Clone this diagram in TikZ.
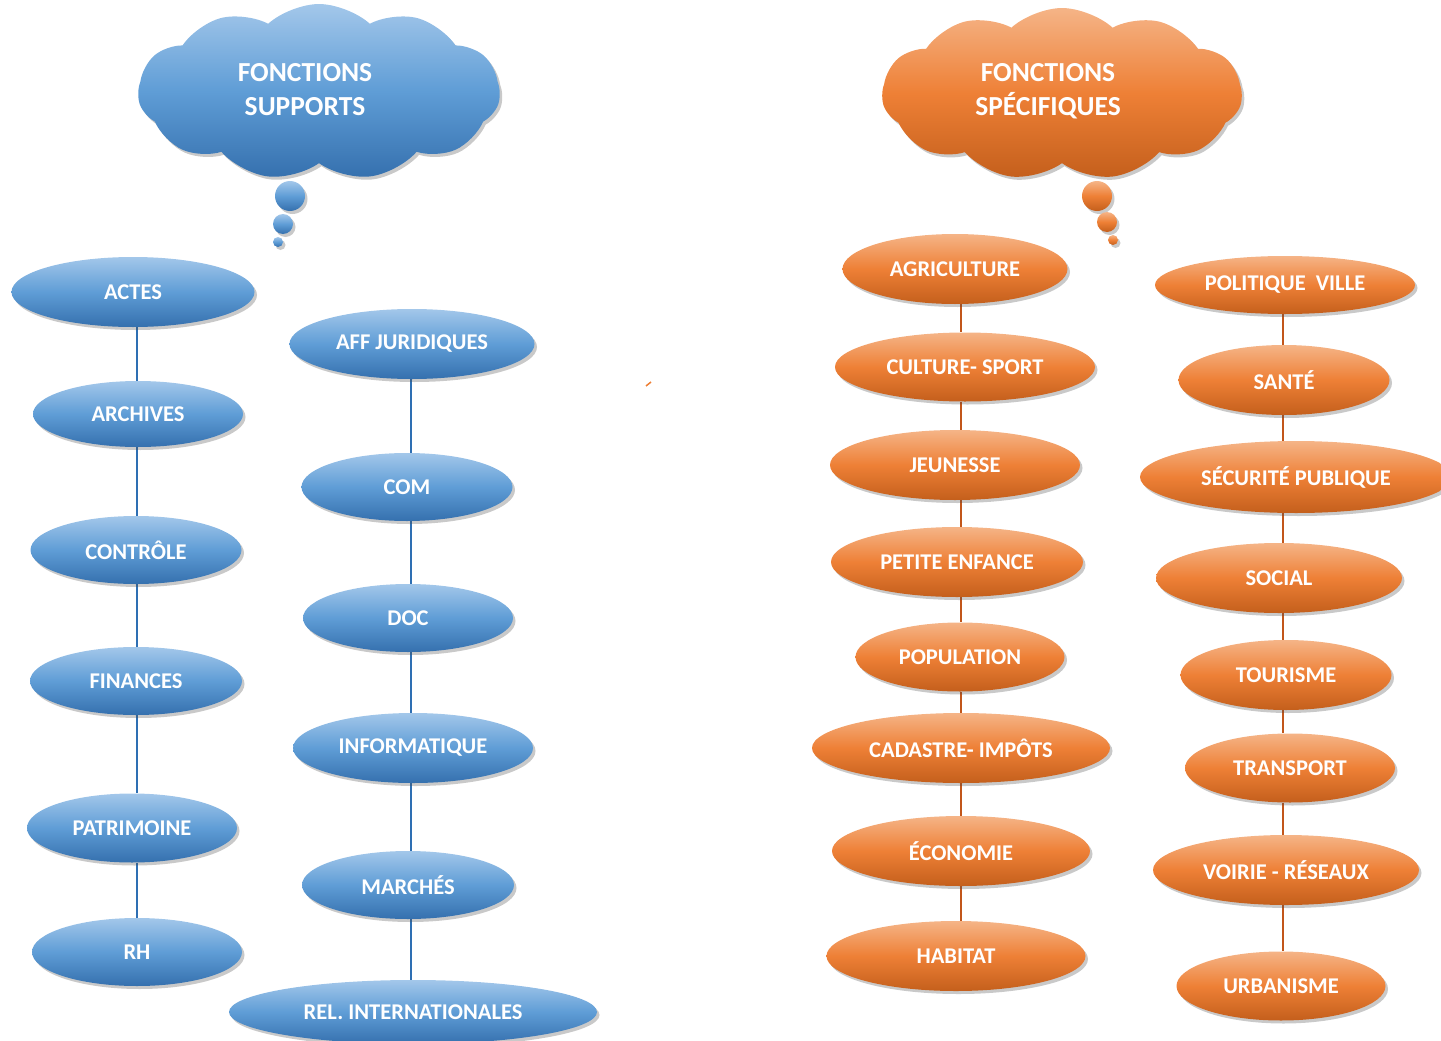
\documentclass[tikz,border=0pt]{standalone}
\usepackage{fontspec}
\setmainfont{Carlito}
\usetikzlibrary{shapes.geometric,shapes.symbols,shadows,backgrounds}
\definecolor{bluetop}{HTML}{A3C7EA}
\definecolor{bluemid}{HTML}{5F9DD6}
\definecolor{bluebot}{HTML}{3570AE}
\definecolor{bluelin}{HTML}{2E6FB3}
\definecolor{ortop}{HTML}{F5B487}
\definecolor{ormid}{HTML}{EE8036}
\definecolor{orbot}{HTML}{C45F1C}
\definecolor{orlin}{HTML}{C2561A}
\tikzset{
  shad/.style={drop shadow={shadow xshift=2.5pt,shadow yshift=-3pt,opacity=0.3,fill=black!70}},
  bfill/.style={top color=bluetop,bottom color=bluebot,middle color=bluemid},
  ofill/.style={top color=ortop,bottom color=orbot,middle color=ormid},
  elltxt/.style={text=white,font=\bfseries\fontsize{22.5}{26}\selectfont},
  bellip/.style={ellipse,inner sep=0pt,shad,bfill,elltxt},
  oellip/.style={ellipse,inner sep=0pt,shad,ofill,elltxt},
  cloudbase/.style={cloud,cloud puffs=11,cloud puff arc=85,aspect=2.1,inner sep=0pt,shad},
  cloudtxt/.style={text=white,align=center,font=\bfseries\fontsize{27.5}{34}\selectfont},
  bub/.style={circle,inner sep=0pt,shad},
  bline/.style={draw=bluelin,line width=2.6pt},
  oline/.style={draw=orlin,line width=2.6pt},
}
\begin{document}
\begin{tikzpicture}[x=1pt,y=-1pt]
\useasboundingbox (0,0) rectangle (1441,1041);
% ---------- clouds ----------
\node[cloudbase,bfill,minimum width=362pt,minimum height=176pt] (cloudS) at (319,92) {};
\node[cloudtxt] (cloudStxt) at (305,90) {FONCTIONS\\SUPPORTS};
\node[bub,bfill,minimum size=30pt] (bs1) at (290,196) {};
\node[bub,bfill,minimum size=20pt] (bs2) at (283,224) {};
\node[bub,bfill,minimum size=10pt] (bs3) at (278,242) {};
\node[cloudbase,ofill,minimum width=360pt,minimum height=172pt] (cloudP) at (1062,94) {};
\node[cloudtxt] (cloudPtxt) at (1048,91) {FONCTIONS\\SPÉCIFIQUES};
\node[bub,ofill,minimum size=30pt] (bp1) at (1097,196) {};
\node[bub,ofill,minimum size=20pt] (bp2) at (1107,222) {};
\node[bub,ofill,minimum size=10pt] (bp3) at (1113,240) {};
% ---------- column 1 ----------
\coordinate (c1) at (137,0);
\node[bellip,minimum width=243pt,minimum height=70pt] (actes) at (133,292) {ACTES};
\node[bellip,minimum width=210pt,minimum height=66pt] (archives) at (138,414) {ARCHIVES};
\node[bellip,minimum width=211pt,minimum height=68pt] (controle) at (136,550) {CONTRÔLE};
\node[bellip,minimum width=212pt,minimum height=68pt] (finances) at (136,681) {FINANCES};
\node[bellip,minimum width=210pt,minimum height=69pt] (patrimoine) at (132,828) {PATRIMOINE};
\node[bellip,minimum width=210pt,minimum height=68pt] (rh) at (137,952) {RH};
% ---------- column 2 ----------
\coordinate (c2) at (411,0);
\node[bellip,minimum width=245pt,minimum height=70pt] (affjur) at (412,344) {AFF JURIDIQUES};
\node[bellip,minimum width=211pt,minimum height=68pt] (com) at (407,487) {COM};
\node[bellip,minimum width=210pt,minimum height=68pt] (doc) at (408,618) {DOC};
\node[bellip,minimum width=240pt,minimum height=70pt] (info) at (413,748) {INFORMATIQUE};
\node[bellip,minimum width=212pt,minimum height=68pt] (marches) at (408,885) {MARCHÉS};
\node[bellip,minimum width=368pt,minimum height=64pt] (relint) at (413,1012) {REL. INTERNATIONALES};
% ---------- column 3 ----------
\coordinate (c3) at (961,0);
\node[oellip,minimum width=225pt,minimum height=70pt] (agri) at (955,269) {AGRICULTURE};
\node[oellip,minimum width=260pt,minimum height=69pt] (culture) at (965,367) {CULTURE- SPORT};
\node[oellip,minimum width=250pt,minimum height=70pt] (jeunesse) at (955,465) {JEUNESSE};
\node[oellip,minimum width=252pt,minimum height=70pt] (petite) at (957,562) {PETITE ENFANCE};
\node[oellip,minimum width=209pt,minimum height=69pt] (population) at (960,657) {POPULATION};
\node[oellip,minimum width=298pt,minimum height=70pt] (cadastre) at (961,748) {CADASTRE- IMPÔTS};
\node[oellip,minimum width=258pt,minimum height=70pt] (economie) at (961,851) {ÉCONOMIE};
\node[oellip,minimum width=259pt,minimum height=70pt] (habitat) at (956,956) {HABITAT};
% ---------- column 4 ----------
\coordinate (c4) at (1283,0);
\node[oellip,minimum width=260pt,minimum height=58pt] (politique) at (1285,285) {POLITIQUE\ \ VILLE};
\node[oellip,minimum width=211pt,minimum height=70pt] (sante) at (1284,380) {SANTÉ};
\node[oellip,minimum width=312pt,minimum height=72pt] (securite) at (1296,477) {SÉCURITÉ PUBLIQUE};
\node[oellip,minimum width=246pt,minimum height=70pt] (social) at (1279,578) {SOCIAL};
\node[oellip,minimum width=211pt,minimum height=70pt] (tourisme) at (1286,675) {TOURISME};
\node[oellip,minimum width=210pt,minimum height=69pt] (transport) at (1290,768) {TRANSPORT};
\node[oellip,minimum width=266pt,minimum height=70pt] (voirie) at (1286,870) {VOIRIE - RÉSEAUX};
\node[oellip,minimum width=209pt,minimum height=69pt] (urbanisme) at (1281,986) {URBANISME};
% ---------- connectors ----------
\begin{pgfonlayer}{background}
\draw[bline] (actes.south -| c1) -- (archives.north -| c1);
\draw[bline] (archives.south -| c1) -- (controle.north -| c1);
\draw[bline] (controle.south -| c1) -- (finances.north -| c1);
\draw[bline] (finances.south -| c1) -- (patrimoine.north -| c1);
\draw[bline] (patrimoine.south -| c1) -- (rh.north -| c1);
\draw[bline] (affjur.south -| c2) -- (com.north -| c2);
\draw[bline] (com.south -| c2) -- (doc.north -| c2);
\draw[bline] (doc.south -| c2) -- (info.north -| c2);
\draw[bline] (info.south -| c2) -- (marches.north -| c2);
\draw[bline] (marches.south -| c2) -- (relint.north -| c2);
\draw[oline] (agri.south -| c3) -- (culture.north -| c3);
\draw[oline] (culture.south -| c3) -- (jeunesse.north -| c3);
\draw[oline] (jeunesse.south -| c3) -- (petite.north -| c3);
\draw[oline] (petite.south -| c3) -- (population.north -| c3);
\draw[oline] (population.south -| c3) -- (cadastre.north -| c3);
\draw[oline] (cadastre.south -| c3) -- (economie.north -| c3);
\draw[oline] (economie.south -| c3) -- (habitat.north -| c3);
\draw[oline] (politique.south -| c4) -- (sante.north -| c4);
\draw[oline] (sante.south -| c4) -- (securite.north -| c4);
\draw[oline] (securite.south -| c4) -- (social.north -| c4);
\draw[oline] (social.south -| c4) -- (tourisme.north -| c4);
\draw[oline] (tourisme.south -| c4) -- (transport.north -| c4);
\draw[oline] (transport.south -| c4) -- (voirie.north -| c4);
\draw[oline] (voirie.south -| c4) -- (urbanisme.north -| c4);
\end{pgfonlayer}
% stray mark
\coordinate (mk1) at (646,386);
\coordinate (mk2) at (651,382);
\draw[draw=ormid,line width=1.5pt] (mk1) -- (mk2);
\end{tikzpicture}
\end{document}
